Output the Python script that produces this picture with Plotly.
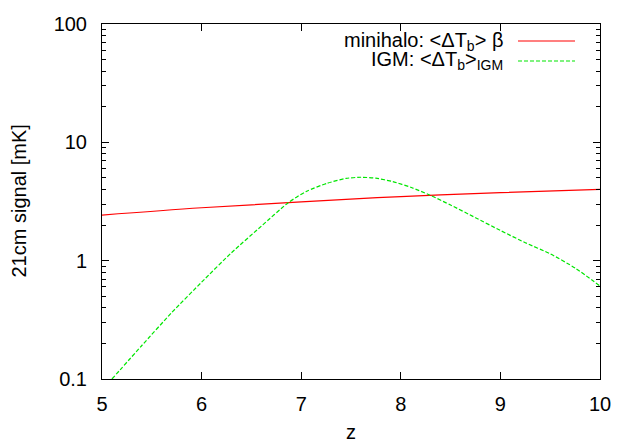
import plotly.graph_objects as go

# Data
z_minihalo = [5.0, 6.0, 7.0, 8.0, 9.0, 10.0]
signal_minihalo = [2.43, 2.80, 3.14, 3.48, 3.76, 4.0]

z_igm = [5.10, 5.40, 5.70, 6.00, 6.30, 6.60, 6.87, 7.05, 7.26, 7.45, 7.60, 7.75,
         7.92, 8.10, 8.29, 8.50, 8.75, 9.00, 9.25, 9.50, 9.75, 10.0]
signal_igm = [0.100, 0.192, 0.364, 0.658, 1.167, 1.959, 3.090, 3.846, 4.508, 4.955,
              5.070, 4.977, 4.656, 4.169, 3.589, 2.951, 2.307, 1.799, 1.419, 1.143,
              0.867, 0.611]

x_ticks = [5, 6, 7, 8, 9, 10]
y_ticks = [0.1, 1, 10, 100]
y_tick_text = ["0.1", "1", "10", "100"]

FONT = "Liberation Sans, Arial, sans-serif"
FS = 20
RED = "#ff0000"
GREEN = "#00e600"

fig = go.Figure()
fig.add_trace(go.Scatter(x=z_minihalo, y=signal_minihalo, mode="lines",
                         line=dict(color=RED, width=1.2, shape="spline"),
                         showlegend=False))
fig.add_trace(go.Scatter(x=z_igm, y=signal_igm, mode="lines",
                         line=dict(color=GREEN, width=1.2, dash="4px,2px",
                                   shape="spline", smoothing=0.6),
                         showlegend=False))

W, H = 638, 446
L, R, T, B = 102, 38, 24, 67
pw, ph = W - L - R, H - T - B

def px(xp):
    return (xp - L) / pw

def py(yp):
    return (H - B - yp) / ph

fig.update_layout(
    width=W, height=H,
    margin=dict(l=L, r=R, t=T, b=B, autoexpand=False),
    plot_bgcolor="white", paper_bgcolor="white",
    font=dict(family=FONT, size=FS, color="black"),
    xaxis=dict(range=[5, 10], tickvals=x_ticks, ticks="inside", ticklen=7,
               tickcolor="black", showline=True, linecolor="black", linewidth=1,
               mirror="ticks", showgrid=False, zeroline=False,
               ticklabelstandoff=7, tickfont=dict(size=FS)),
    yaxis=dict(type="log", range=[-1, 2], tickvals=y_ticks, ticktext=y_tick_text,
               ticks="inside", ticklen=7, tickcolor="black", showline=True,
               linecolor="black", linewidth=1, mirror="ticks", showgrid=False,
               zeroline=False, ticklabelstandoff=10, tickfont=dict(size=FS),
               minor=dict(ticks="inside", ticklen=4, tickcolor="black",
                          dtick="D1", showgrid=False)),
    showlegend=False,
)

# axis titles
fig.add_annotation(xref="paper", yref="paper", x=px(18), y=0.5, text="21cm signal [mK]",
                   textangle=-90, showarrow=False, xanchor="center", yanchor="middle",
                   font=dict(size=FS))
fig.add_annotation(xref="paper", yref="paper", x=0.5, y=py(432), text="z",
                   showarrow=False, xanchor="center", yanchor="middle",
                   font=dict(size=FS))

# gnuplot-style legend (text right-aligned, sample to the right)
legend_items = [
    ("minihalo: &lt;ΔT<sub>b</sub>&gt; β", RED, "solid", 41),
    ("IGM: &lt;ΔT<sub>b</sub>&gt;<sub>IGM</sub>", GREEN, "4px,2px", 61),
]
for text, color, dash, yrow in legend_items:
    fig.add_annotation(xref="paper", yref="paper", x=px(505), y=py(yrow), text=text,
                       showarrow=False, xanchor="right", yanchor="middle",
                       font=dict(size=FS))
    fig.add_shape(type="line", xref="paper", yref="paper",
                  x0=px(518), x1=px(575), y0=py(yrow), y1=py(yrow),
                  line=dict(color=color, width=1.2, dash=dash))

fig.write_html("out.html")
